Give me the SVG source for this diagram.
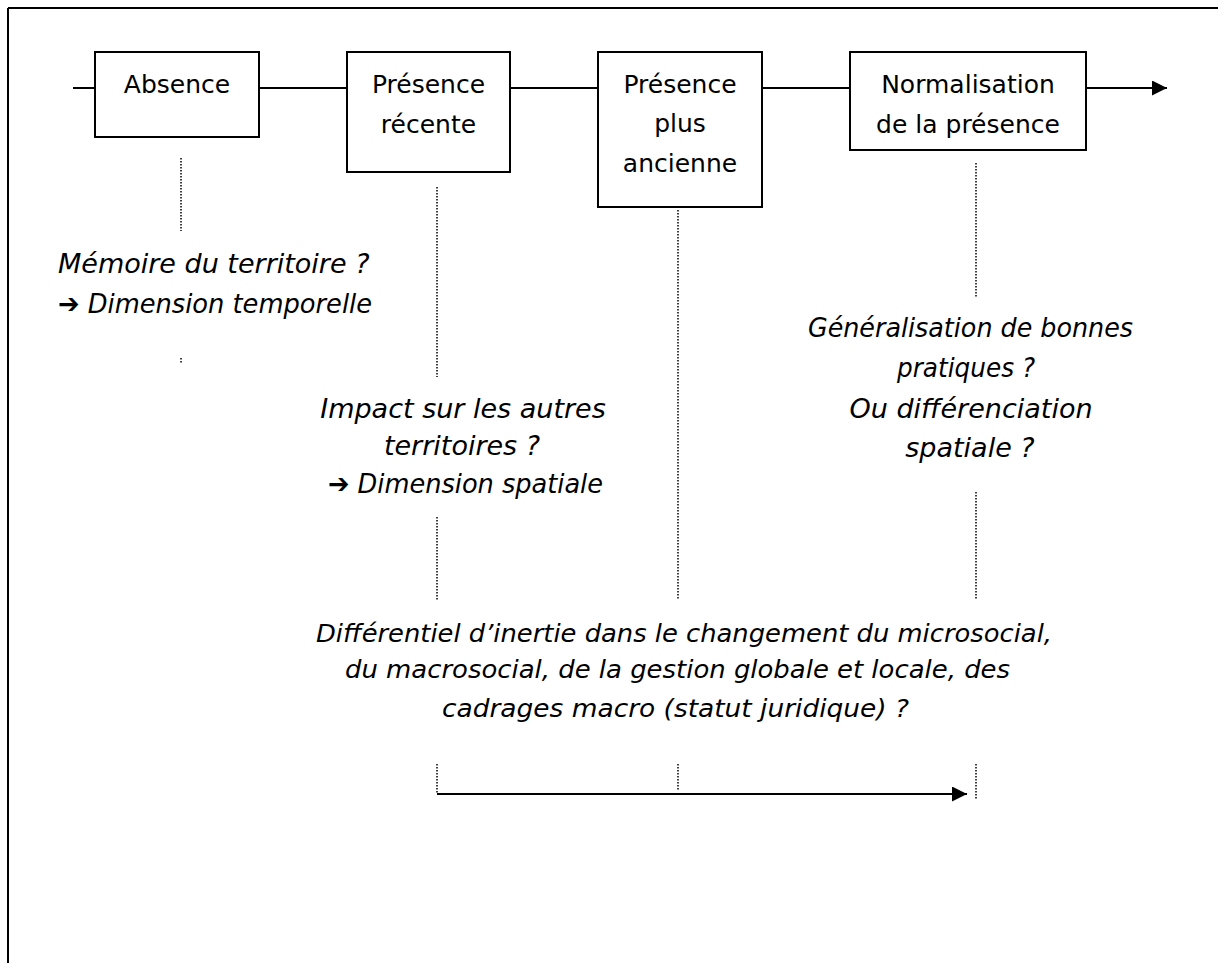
<svg xmlns="http://www.w3.org/2000/svg" width="1218" height="963" viewBox="0 0 1218 963">
<defs>
<marker id="arr" markerUnits="userSpaceOnUse" markerWidth="16" markerHeight="16" refX="15" refY="7.5" orient="auto">
<path d="M0,0 L15,7.5 L0,15 z" fill="#000"/>
</marker>
<style>
.box{fill:#fff;stroke:#000;stroke-width:2}
.ln{stroke:#000;stroke-width:2;fill:none}
.dot{stroke:#000;stroke-width:1.5;stroke-dasharray:1.5 1.5;fill:none}
.bt{font-family:"Comic Sans MS","DejaVu Sans",sans-serif;font-size:25px;text-anchor:middle;fill:#000}
.it{font-family:"Comic Sans MS","DejaVu Sans",sans-serif;font-size:27px;font-style:italic;fill:#000}
.itm{font-family:"Comic Sans MS","DejaVu Sans",sans-serif;font-size:24px;font-style:italic;fill:#000}
.c{text-anchor:middle}
</style>
</defs>
<rect width="1218" height="963" fill="#fff"/>
<g id="frame">
<line class="ln" x1="8" y1="8" x2="1218" y2="8"/>
<line class="ln" x1="8" y1="8" x2="8" y2="963"/>
</g>
<g id="connectors">
<line class="ln" x1="73" y1="88" x2="95" y2="88"/>
<line class="ln" x1="259" y1="88" x2="347" y2="88"/>
<line class="ln" x1="510" y1="88" x2="598" y2="88"/>
<line class="ln" x1="762" y1="88" x2="850" y2="88"/>
<line class="ln" x1="1086" y1="88" x2="1167" y2="88" marker-end="url(#arr)"/>
<line class="dot" x1="181" y1="158" x2="181" y2="231"/>
<line class="dot" x1="181" y1="358" x2="181" y2="364"/>
<line class="dot" x1="437" y1="187" x2="437" y2="377"/>
<line class="dot" x1="437" y1="517" x2="437" y2="600"/>
<line class="dot" x1="437" y1="764" x2="437" y2="794"/>
<line class="dot" x1="678" y1="210" x2="678" y2="600"/>
<line class="dot" x1="678" y1="764" x2="678" y2="790"/>
<line class="dot" x1="976" y1="163" x2="976" y2="297"/>
<line class="dot" x1="976" y1="492" x2="976" y2="600"/>
<line class="dot" x1="976" y1="764" x2="976" y2="800"/>
<line class="ln" x1="437" y1="794" x2="967" y2="794" marker-end="url(#arr)"/>
</g>
<g id="absence">
<rect class="box" x="95" y="52" width="164" height="85"/>
<text class="bt" x="177" y="93">Absence</text>
</g>
<g id="presence-recente">
<rect class="box" x="347" y="52" width="163" height="120"/>
<text class="bt" x="428.5" y="93">Présence</text>
<text class="bt" x="428.5" y="133">récente</text>
</g>
<g id="presence-ancienne">
<rect class="box" x="598" y="52" width="164" height="155"/>
<text class="bt" x="680" y="93">Présence</text>
<text class="bt" x="680" y="132">plus</text>
<text class="bt" x="680" y="172">ancienne</text>
</g>
<g id="normalisation">
<rect class="box" x="850" y="52" width="236" height="98"/>
<text class="bt" x="968" y="93">Normalisation</text>
<text class="bt" x="968" y="133">de la présence</text>
</g>
<g id="note-temporelle">
<text class="it" x="58" y="273">Mémoire du territoire ?</text>
<text class="it" x="58" y="313" textLength="314" lengthAdjust="spacingAndGlyphs">➔ Dimension temporelle</text>
</g>
<g id="note-spatiale">
<text class="it c" x="463" y="418">Impact sur les autres</text>
<text class="it c" x="462" y="455">territoires ?</text>
<text class="it" x="328" y="493" textLength="275" lengthAdjust="spacingAndGlyphs">➔ Dimension spatiale</text>
</g>
<g id="note-normalisation">
<text class="it" x="808" y="337" textLength="325" lengthAdjust="spacingAndGlyphs">Généralisation de bonnes</text>
<text class="it" x="897" y="377" textLength="138" lengthAdjust="spacingAndGlyphs">pratiques ?</text>
<text class="it c" x="971" y="418">Ou différenciation</text>
<text class="it c" x="970" y="457">spatiale ?</text>
</g>
<g id="note-inertie">
<text class="itm" x="316" y="642" textLength="736" lengthAdjust="spacingAndGlyphs">Différentiel d’inertie dans le changement du microsocial,</text>
<text class="itm" x="345" y="678" textLength="665" lengthAdjust="spacingAndGlyphs">du macrosocial, de la gestion globale et locale, des</text>
<text class="itm" x="442" y="717" textLength="467" lengthAdjust="spacingAndGlyphs">cadrages macro (statut juridique) ?</text>
</g>
</svg>
